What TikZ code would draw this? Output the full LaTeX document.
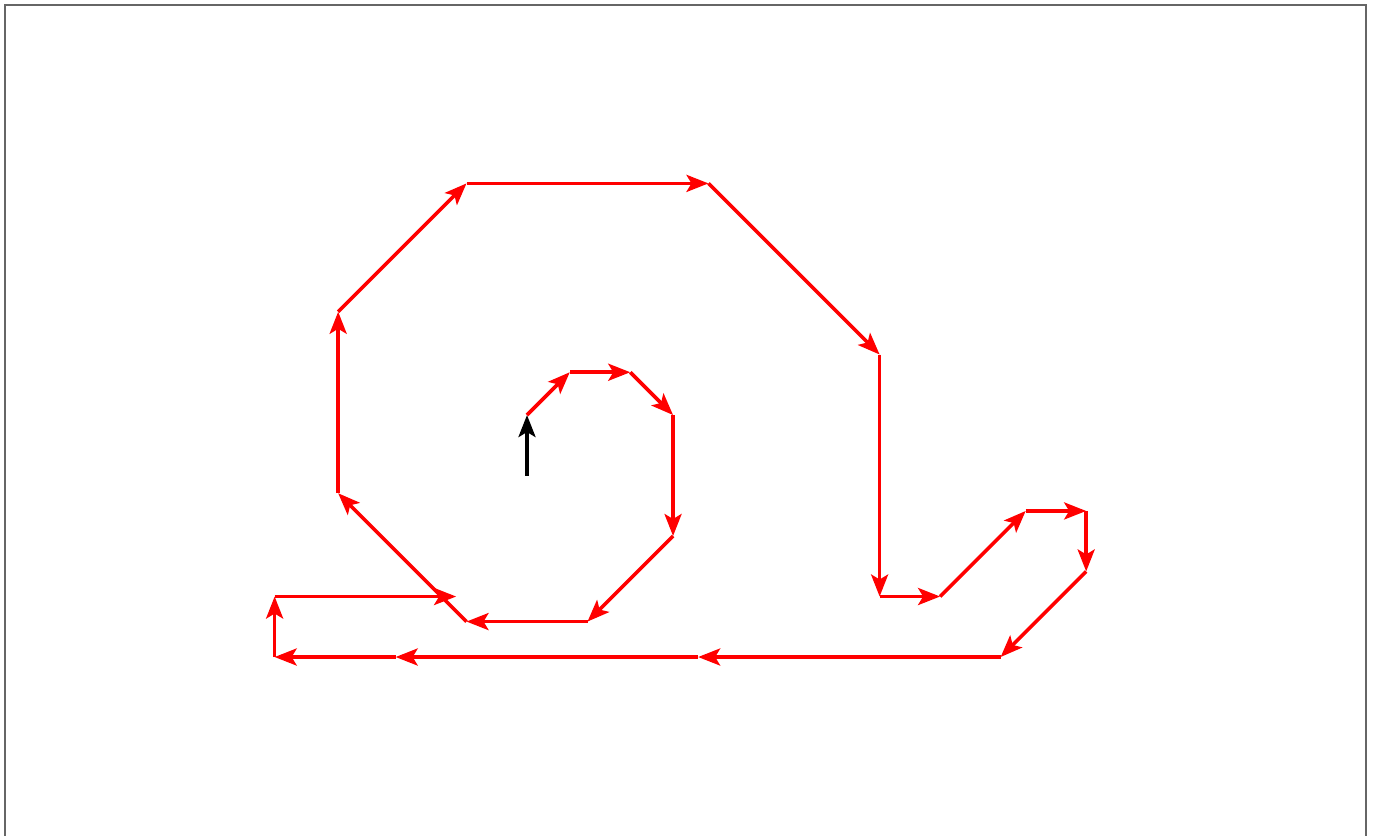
\documentclass[tikz,border=0pt]{standalone}
\usetikzlibrary{arrows.meta}

\begin{document}
\begin{tikzpicture}[
  x=60.5bp, y=60.5bp,
  move/.style={draw=red, line width=3.6bp, -{Stealth[length=22bp, width=17bp, inset=5bp]}},
  heading/.style={move, draw=black},
  frame/.style={draw=black!60, line width=1.5bp}
]
\useasboundingbox (-8.711,-6.942) rectangle (14.0,6.860);
\draw[frame] (-8.628,-7.5) -- (-8.628,6.777) -- (13.87,6.777) -- (13.87,-7.5);
% turtle track
\coordinate (start) at (0,-1);
\path (0,0) coordinate (p0)
  ++(45:1) coordinate (p1)
  ++(0:1) coordinate (p2)
  ++(-45:1) coordinate (p3)
  ++(-90:2) coordinate (p4)
  ++(-135:2) coordinate (p5)
  ++(180:2) coordinate (p6)
  ++(135:3) coordinate (p7)
  ++(90:3) coordinate (p8)
  ++(45:3) coordinate (p9)
  ++(0:4) coordinate (p10)
  ++(-45:4) coordinate (p11)
  ++(-90:4) coordinate (p12)
  ++(0:1) coordinate (p13)
  ++(45:2) coordinate (p14)
  ++(0:1) coordinate (p15)
  ++(-90:1) coordinate (p16)
  ++(-135:2) coordinate (p17)
  ++(180:5) coordinate (p18)
  ++(180:5) coordinate (p19)
  ++(180:2) coordinate (p20)
  ++(90:1) coordinate (p21)
  ++(0:3) coordinate (p22);
\draw[heading] (start) -- (p0);
\foreach \i [remember=\i as \prev (initially 0)] in {1,...,22}
  \draw[move] (p\prev) -- (p\i);
\end{tikzpicture}
\end{document}
